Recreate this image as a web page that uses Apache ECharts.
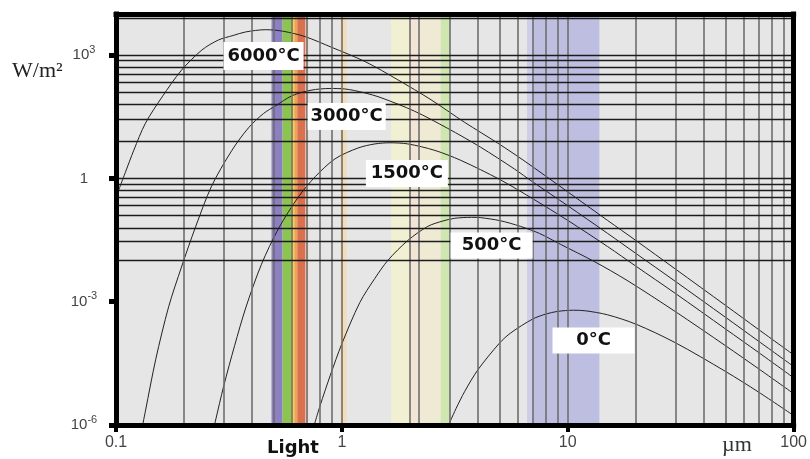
<!DOCTYPE html>
<html><head><meta charset="utf-8">
<script src="https://cdn.jsdelivr.net/npm/echarts@6/dist/echarts.min.js"></script>
<style>html,body{margin:0;padding:0;background:#fff}#c{width:810px;height:459px}</style>
</head><body><div id="c"></div>
<script>
// ---- axis ticks / grid values ----
const xTicks = [0.1, 1, 10, 100];
const yTicks = [1e-6, 1e-3, 1, 1e3];
const xGrid = [0.2,0.3,0.4,0.5,0.6,0.7,0.8,0.9,1,2,2.2,3,4,5,6,7,8,9,10,20,30,40,50,60,70,80,90];
const yGrid = [8e-6,2.7e-5,6.4e-5,1.25e-4,2.16e-4,3.43e-4,5.12e-4,7.29e-4,1e-3,
               8e-3,0.027,0.064,0.125,0.216,0.343,0.512,0.729,1,
               8,27,64,125,216,343,512,729,1000,8000];

// ---- spectral bands (µm) ----
const bandStart = [0.488,0.546,0.597,0.616,0.635,0.69, 0.985,1.65,2.0,2.2,2.74, 6.6, 7.0];
const bandEnd   = [0.546,0.597,0.616,0.635,0.69,0.71, 1.05, 2.0, 2.2,2.74,3.0, 7.0, 13.8];
const bandColors = ['#8c80c2','#8cc452','#f2d24a','#f0a24e','#d9704e','#efcbbd',
                    '#f3dcb8','#f1f0d2','#f3e5d6','#efead3','#cfe6b0','#ceceea','#bebee0'];

// ---- curves: wavelength (µm) and radiance ----
const lam6000 = [0.1,0.11,0.12,0.135,0.16,0.195,0.24,0.284,0.33,0.374,0.46,0.55,0.689,0.9,1.27,1.77,2.48,3.5,4.9,6.4,10,15,20,30,50,70,100];
const val6000 = [0.35,1.4,4.9,22,96,430,1330,2330,3000,3650,4150,3800,2800,1550,690,250,82,23,7.2,2.7,0.47,0.095,0.031,6.2e-3,8.1e-4,2.1e-4,5.1e-5];

const lam3000 = [0.127,0.135,0.15,0.171,0.195,0.225,0.265,0.325,0.386,0.45,0.508,0.6,0.73,0.885,1.03,1.25,1.49,2.1,2.94,4.1,5.8,7,10,15,20,30,50,70,100];
const val3000 = [4e-7,2.2e-6,4e-5,7.5e-4,7e-3,0.066,0.65,4.7,17,38,58,102,140,154,150,122,92,43,16.5,5.8,1.7,0.82,0.216,0.046,0.015,3.1e-3,4.15e-4,1.09e-4,2.65e-5];

const lam1500 = [0.265,0.275,0.3,0.335,0.375,0.44,0.524,0.641,0.762,0.933,1.18,1.4,1.63,1.96,2.58,3.36,5,7,10,15,20,30,50,70,100];
const val1500 = [5e-7,1.2e-6,9e-6,8.5e-5,7e-4,8e-3,0.06,0.35,1.1,3.0,5.5,6.9,7.35,6.9,4.8,2.75,0.94,0.32,0.095,0.022,7.35e-3,1.58e-3,2.16e-4,5.8e-5,1.41e-5];

const lam500 = [0.74,0.8,0.888,1.0,1.2,1.4,1.6,1.96,2.4,2.8,3.16,3.75,4.11,5,6.18,7.5,9.27,13.1,18.3,30,50,70,100];
const val500 = [7e-7,2.9e-6,1.6e-5,9.5e-5,9.5e-4,3.7e-3,0.0102,0.031,0.068,0.092,0.107,0.113,0.111,0.094,0.068,0.0457,0.025,9.5e-3,3.3e-3,5.7e-4,8.45e-5,2.33e-5,5.8e-6];

const lam0 = [2.9,3.2,3.5,4,5,5.6,7,8,9,10.6,12,15,20,30,50,70,100];
const val0 = [7.5e-7,2.5e-6,6.6e-6,2.2e-5,1.0e-4,1.75e-4,3.8e-4,5.0e-4,5.8e-4,6.2e-4,6.0e-4,4.8e-4,2.85e-4,1.0e-4,2.0e-5,6.3e-6,1.7e-6];

// ---- curve label names and anchor points ----
const curveNames = ['6000°C','3000°C','1500°C','500°C','0°C'];
const labelLam = [0.45, 1.05, 1.94, 4.6, 13.0];
const labelVal = [950, 32, 1.32, 0.0233, 1.14e-4];

const curves = [[lam6000,val6000],[lam3000,val3000],[lam1500,val1500],[lam500,val500],[lam0,val0]];
const boxSizes = [[80,28],[78,27],[82,27],[82,26],[82,26]];

const chart = echarts.init(document.getElementById('c'), null, {renderer:'canvas'});

function supExp(v){
  const e = Math.round(Math.log10(v));
  if (e === 0) return '1';
  return '{b|10}{s|' + (e < 0 ? '-' + (-e) : e) + '}';
}

const series = [];
// bands
series.push({
  type:'line', data:[], z:1, silent:true, animation:false,
  markArea:{silent:true, data: bandStart.map((a,i)=>[{xAxis:a, itemStyle:{color:bandColors[i]}},{xAxis:bandEnd[i]}])}
});
// vertical grid lines
series.push({
  type:'line', data:[], z:2, silent:true, animation:false,
  markLine:{silent:true, symbol:['none','none'], label:{show:false}, animation:false,
    lineStyle:{type:'solid', color:'#6e6e6e', width:1.6},
    data: xGrid.map(v=>({xAxis:v}))}
});
// horizontal grid lines
series.push({
  type:'line', data:[], z:2, silent:true, animation:false,
  markLine:{silent:true, symbol:['none','none'], label:{show:false}, animation:false,
    lineStyle:{type:'solid', color:'#1c1c1c', width:1.3},
    data: yGrid.map(v=>({yAxis:v}))}
});
curves.forEach((c,i)=>{
  series.push({
    type:'line', name:curveNames[i], z:3, silent:true, animation:false,
    data: c[0].map((x,j)=>[x, c[1][j]]),
    showSymbol:false, smooth:0.3, clip:true,
    lineStyle:{color:'#222', width:1},
    markPoint:{silent:true, animation:false, symbol:'rect', symbolSize:boxSizes[i],
      itemStyle:{color:'#ffffff'},
      label:{show:true, position:'inside', color:'#111', fontFamily:'DejaVu Sans', fontWeight:'bold', fontSize:18,
        formatter: curveNames[i]},
      data:[{coord:[labelLam[i], labelVal[i]], name:curveNames[i]}]}
  });
});

chart.setOption({
  animation:false,
  grid:{left:116, right:13, top:14, bottom:34, show:true, backgroundColor:'#e6e6e6', borderWidth:0},
  xAxis:[{
    type:'log', logBase:10, min:0.1, max:100, position:'bottom', z:10,
    axisLine:{show:true, lineStyle:{color:'#000', width:5, cap:'square'}},
    axisTick:{show:true, length:7, lineStyle:{color:'#000', width:4}, customValues:xTicks},
    axisLabel:{show:true, customValues:xTicks, margin:10, color:'#444', fontFamily:'Liberation Sans', fontSize:16,
      formatter:v=> (Math.abs(v-0.1)<1e-9?'0.1':String(Math.round(v)))},
    splitLine:{show:false}, minorTick:{show:false}
  },{
    type:'log', logBase:10, min:0.1, max:100, position:'top', z:10,
    axisLine:{show:true, lineStyle:{color:'#000', width:5, cap:'square'}},
    axisTick:{show:false}, axisLabel:{show:false}, splitLine:{show:false}
  }],
  yAxis:[{
    type:'log', logBase:1000, min:1e-6, max:1e4, position:'left', z:10,
    axisLine:{show:true, lineStyle:{color:'#000', width:5, cap:'square'}},
    axisTick:{show:true, length:7, lineStyle:{color:'#000', width:5}, customValues:yTicks},
    axisLabel:{show:true, customValues:yTicks, margin:32, align:'center', color:'#444', fontFamily:'Liberation Sans', fontSize:15,
      formatter:supExp,
      rich:{b:{fontSize:15, color:'#444', fontFamily:'Liberation Sans', lineHeight:22},
            s:{fontSize:11, color:'#444', fontFamily:'Liberation Sans', verticalAlign:'top', lineHeight:22}}},
    splitLine:{show:false}, minorTick:{show:false}
  },{
    type:'log', logBase:1000, min:1e-6, max:1e4, position:'right', z:10,
    axisLine:{show:true, lineStyle:{color:'#000', width:5, cap:'square'}},
    axisTick:{show:false}, axisLabel:{show:false}, splitLine:{show:false}
  }],
  series: series,
  graphic:[
    {type:'text', left:12, top:60, z:20, style:{text:'W/m²', font:'22px "Liberation Serif"', fill:'#222'}},
    {type:'text', left:267, top:439, z:20, style:{text:'Light', font:'bold 18px "DejaVu Sans"', fill:'#111'}},
    {type:'text', left:722, top:434, z:20, style:{text:'µm', font:'22px "Liberation Serif"', fill:'#333'}}
  ]
});
</script></body></html>
